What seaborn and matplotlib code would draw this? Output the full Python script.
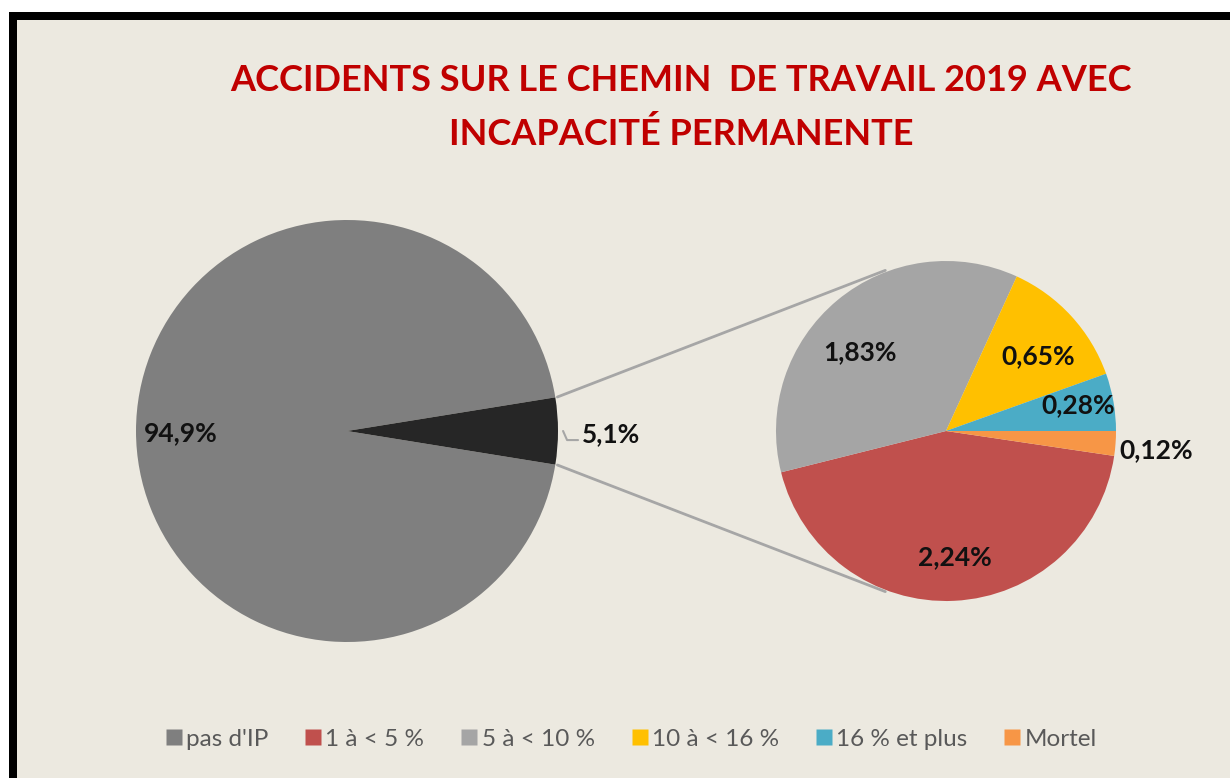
import numpy as np
import matplotlib
matplotlib.use("Agg")
import matplotlib.pyplot as plt
import seaborn as sns
from matplotlib.patches import Rectangle, ConnectionPatch
from matplotlib.lines import Line2D

# ---- data ----
main_labels = ["pas d'IP", "IP"]
main_values = [94.9, 5.1]
main_texts = ["94,9%", "5,1%"]

sub_labels = ["1 à < 5 %", "5 à < 10 %", "10 à < 16 %", "16 % et plus", "Mortel"]
sub_values = [2.24, 1.83, 0.65, 0.28, 0.12]
sub_texts = ["2,24%", "1,83%", "0,65%", "0,28%", "0,12%"]

title = "ACCIDENTS SUR LE CHEMIN  DE TRAVAIL 2019 AVEC\nINCAPACITÉ PERMANENTE"

main_colors = ["#7F7F7F", "#262626"]
sub_colors = ["#C0504D", "#A5A5A5", "#FFC000", "#4BACC6", "#F79646"]

sns.set_style("white")
plt.rcParams["font.family"] = ["Lato", "DejaVu Sans"]

W, H = 1230, 778
fig = plt.figure(figsize=(W / 100, H / 100), dpi=100)
fig.patch.set_facecolor("white")

# frame: black border on top/left, beige area
fig.patches.append(Rectangle((9 / W, 0), 1 - 9 / W, (H - 12) / H, transform=fig.transFigure,
                             facecolor="black", edgecolor="none", zorder=-10))
fig.patches.append(Rectangle((17 / W, 0), 1 - 17 / W, (H - 20) / H, transform=fig.transFigure,
                             facecolor="#ECE9E0", edgecolor="none", zorder=-9))


def make_ax(cx, cy, r):
    ax = fig.add_axes([(cx - r) / W, (H - cy - r) / H, 2 * r / W, 2 * r / H])
    ax.set_xlim(-1, 1)
    ax.set_ylim(-1, 1)
    ax.set_aspect("equal")
    ax.axis("off")
    ax.patch.set_alpha(0)
    return ax


ax1 = make_ax(347, 431, 211)
ax2 = make_ax(946, 431, 170)

# main pie: small slice centred on the right
half = main_values[1] / sum(main_values) * 360 / 2
ax1.pie(main_values, colors=main_colors, startangle=half, counterclock=True,
        radius=1, wedgeprops=dict(linewidth=0), frame=False)
ax1.set_xlim(-1, 1); ax1.set_ylim(-1, 1)

# secondary pie
sub_start = -sub_values[-1] / sum(sub_values) * 360
ax2.pie(sub_values, colors=sub_colors, startangle=sub_start, counterclock=False,
        radius=1, wedgeprops=dict(linewidth=0), frame=False)
ax2.set_xlim(-1, 1); ax2.set_ylim(-1, 1)

lab_kw = dict(fontsize=19, fontweight="bold", color="#111111", ha="center", va="center")
ax1.text(-0.79, -0.01, main_texts[0], **lab_kw)
ax1.text(1.25, -0.014, main_texts[1], **lab_kw)
ax1.plot([1.024, 1.043, 1.095], [0.0, -0.043, -0.043], color="#A6A6A6", lw=1.5, clip_on=False)

sub_pos = [(0.053, -0.741), (-0.506, 0.465), (0.541, 0.441), (0.776, 0.153), (1.235, -0.112)]
for (x, y), t in zip(sub_pos, sub_texts):
    ax2.text(x, y, t, **lab_kw)

# connector lines
a1 = np.deg2rad(half)
a2 = np.deg2rad(110.7)
for s in (1, -1):
    con = ConnectionPatch(xyA=(np.cos(a1) * 1.01, s * np.sin(a1) * 1.01), coordsA=ax1.transData,
                          xyB=(np.cos(a2) * 1.01, s * np.sin(a2) * 1.01), coordsB=ax2.transData,
                          color="#A6A6A6", lw=2)
    fig.add_artist(con)

fig.text(681 / W, 1 - 107.5 / H, title, ha="center", va="center", fontsize=26,
         fontweight="bold", color="#C00000", linespacing=1.68)

handles = [Line2D([], [], marker="s", linestyle="none", markersize=11,
                  markerfacecolor=c, markeredgecolor="none")
           for c in [main_colors[0]] + sub_colors]
labels = [main_labels[0]] + sub_labels
fig.legend(handles, labels, loc="center", bbox_to_anchor=(631 / W, 1 - 739 / H), ncol=6,
           frameon=False, fontsize=17.5, handletextpad=0.15, columnspacing=1.5,
           labelcolor="#595959", handlelength=0.7)

fig.savefig("out.png", dpi=100, facecolor=fig.get_facecolor())
